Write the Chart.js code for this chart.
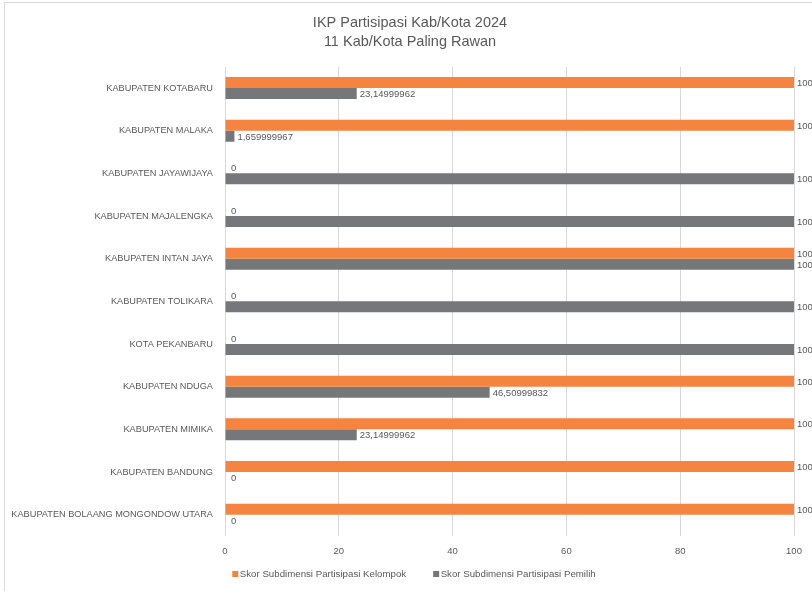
<!DOCTYPE html>
<html>
<head>
<meta charset="utf-8">
<script src="https://cdn.jsdelivr.net/npm/chart.js@4"></script>
<style>
  html, body { margin: 0; padding: 0; background: #fff; }
  .wrap { position: relative; width: 812px; height: 591px; overflow: hidden; }
  .frame { position: absolute; left: 4px; top: 2px; width: 900px; height: 700px; border: 1px solid #d9d9d9; }
  canvas { position: absolute; left: 4px; top: 0; }
</style>
</head>
<body>
<div class="wrap">
  <div class="frame"></div>
  <canvas id="c" width="812" height="591"></canvas>
</div>
<script>
// IKP Partisipasi — horizontal grouped bars, two subdimension scores per regency.
const categories = [
  "KABUPATEN KOTABARU",
  "KABUPATEN MALAKA",
  "KABUPATEN JAYAWIJAYA",
  "KABUPATEN MAJALENGKA",
  "KABUPATEN INTAN JAYA",
  "KABUPATEN TOLIKARA",
  "KOTA PEKANBARU",
  "KABUPATEN NDUGA",
  "KABUPATEN MIMIKA",
  "KABUPATEN BANDUNG",
  "KABUPATEN BOLAANG MONGONDOW UTARA",
];
const kelompok = [100, 100, 0, 0, 100, 0, 0, 100, 100, 100, 100];
const pemilih = [23.14999962, 1.659999967, 100, 100, 100, 100, 100, 46.50999832, 23.14999962, 0, 0];
const xTicks = [0, 20, 40, 60, 80, 100];

const TEXT = "#595959";
const FONT = "'Liberation Sans', Arial, sans-serif";

// value labels drawn just past the bar end, comma as decimal mark
const barLabels = {
  id: "barLabels",
  afterLayout(chart) {
    // let the long category names run into the left padding instead of being clipped
    chart.scales.y.left = 0;
  },
  afterDatasetsDraw(chart) {
    const c = chart.ctx;
    c.save();
    c.font = "9.5px " + FONT;
    c.fillStyle = TEXT;
    c.textBaseline = "middle";
    c.textAlign = "left";
    chart.data.datasets.forEach((ds, i) => {
      chart.getDatasetMeta(i).data.forEach((bar, j) => {
        const v = ds.data[j];
        const txt = String(v).replace(".", ",");
        const off = v === 0 ? 6 : 3;
        c.fillText(txt, bar.x + off, bar.y + 1);
      });
    });
    c.restore();
  },
};

// Excel-style legend: tight square + text, wide gap between entries
const bottomLegend = {
  id: "bottomLegend",
  afterDraw(chart) {
    const c = chart.ctx;
    const box = 6, gap = 1.5, between = 27;
    c.save();
    c.font = "9.7px " + FONT;
    c.textBaseline = "middle";
    c.textAlign = "left";
    const items = chart.data.datasets.map((ds) => ({
      text: ds.label, color: ds.backgroundColor, w: c.measureText(ds.label).width,
    }));
    const total = items.reduce((s, it) => s + box + gap + it.w, 0) + between * (items.length - 1);
    let x = chart.width / 2 - total / 2 + 4;
    const y = 574;
    items.forEach((it) => {
      c.fillStyle = it.color;
      c.fillRect(x, y - box / 2, box, box);
      c.fillStyle = TEXT;
      c.fillText(it.text, x + box + gap, y + 0.5);
      x += box + gap + it.w + between;
    });
    c.restore();
  },
};

new Chart(document.getElementById("c"), {
  type: "bar",
  data: {
    labels: categories,
    datasets: [
      {
        label: "Skor Subdimensi Partisipasi Kelompok",
        data: kelompok,
        backgroundColor: "#f48440",
        borderWidth: 0,
        categoryPercentage: 0.515,
        barPercentage: 1,
      },
      {
        label: "Skor Subdimensi Partisipasi Pemilih",
        data: pemilih,
        backgroundColor: "#76777b",
        borderWidth: 0,
        categoryPercentage: 0.515,
        barPercentage: 1,
      },
    ],
  },
  options: {
    indexAxis: "y",
    responsive: false,
    animation: false,
    layout: { padding: { top: 10, right: 22, left: 22, bottom: 30 } },
    scales: {
      x: {
        min: 0,
        max: 100,
        afterBuildTicks(scale) { scale.ticks = xTicks.map((v) => ({ value: v })); },
        grid: { color: "#d9d9d9", drawTicks: false },
        border: { display: false },
        ticks: { color: TEXT, font: { size: 9.5, family: FONT }, padding: 10 },
        afterFit(scale) { scale.height = 25; },
      },
      y: {
        grid: { display: false, drawTicks: false },
        border: { display: false },
        ticks: { color: TEXT, font: { size: 9.2, family: FONT }, padding: 12, autoSkip: false },
        afterFit(scale) { scale.width = 199; },
      },
    },
    plugins: {
      title: {
        display: true,
        text: ["IKP Partisipasi Kab/Kota 2024", "11 Kab/Kota Paling Rawan"],
        color: TEXT,
        font: { size: 14.5, family: FONT, weight: "normal", lineHeight: 1.3 },
        padding: { top: 4, bottom: 15 },
      },
      legend: { display: false },
      tooltip: { enabled: false },
    },
  },
  plugins: [barLabels, bottomLegend],
});
</script>
</body>
</html>
